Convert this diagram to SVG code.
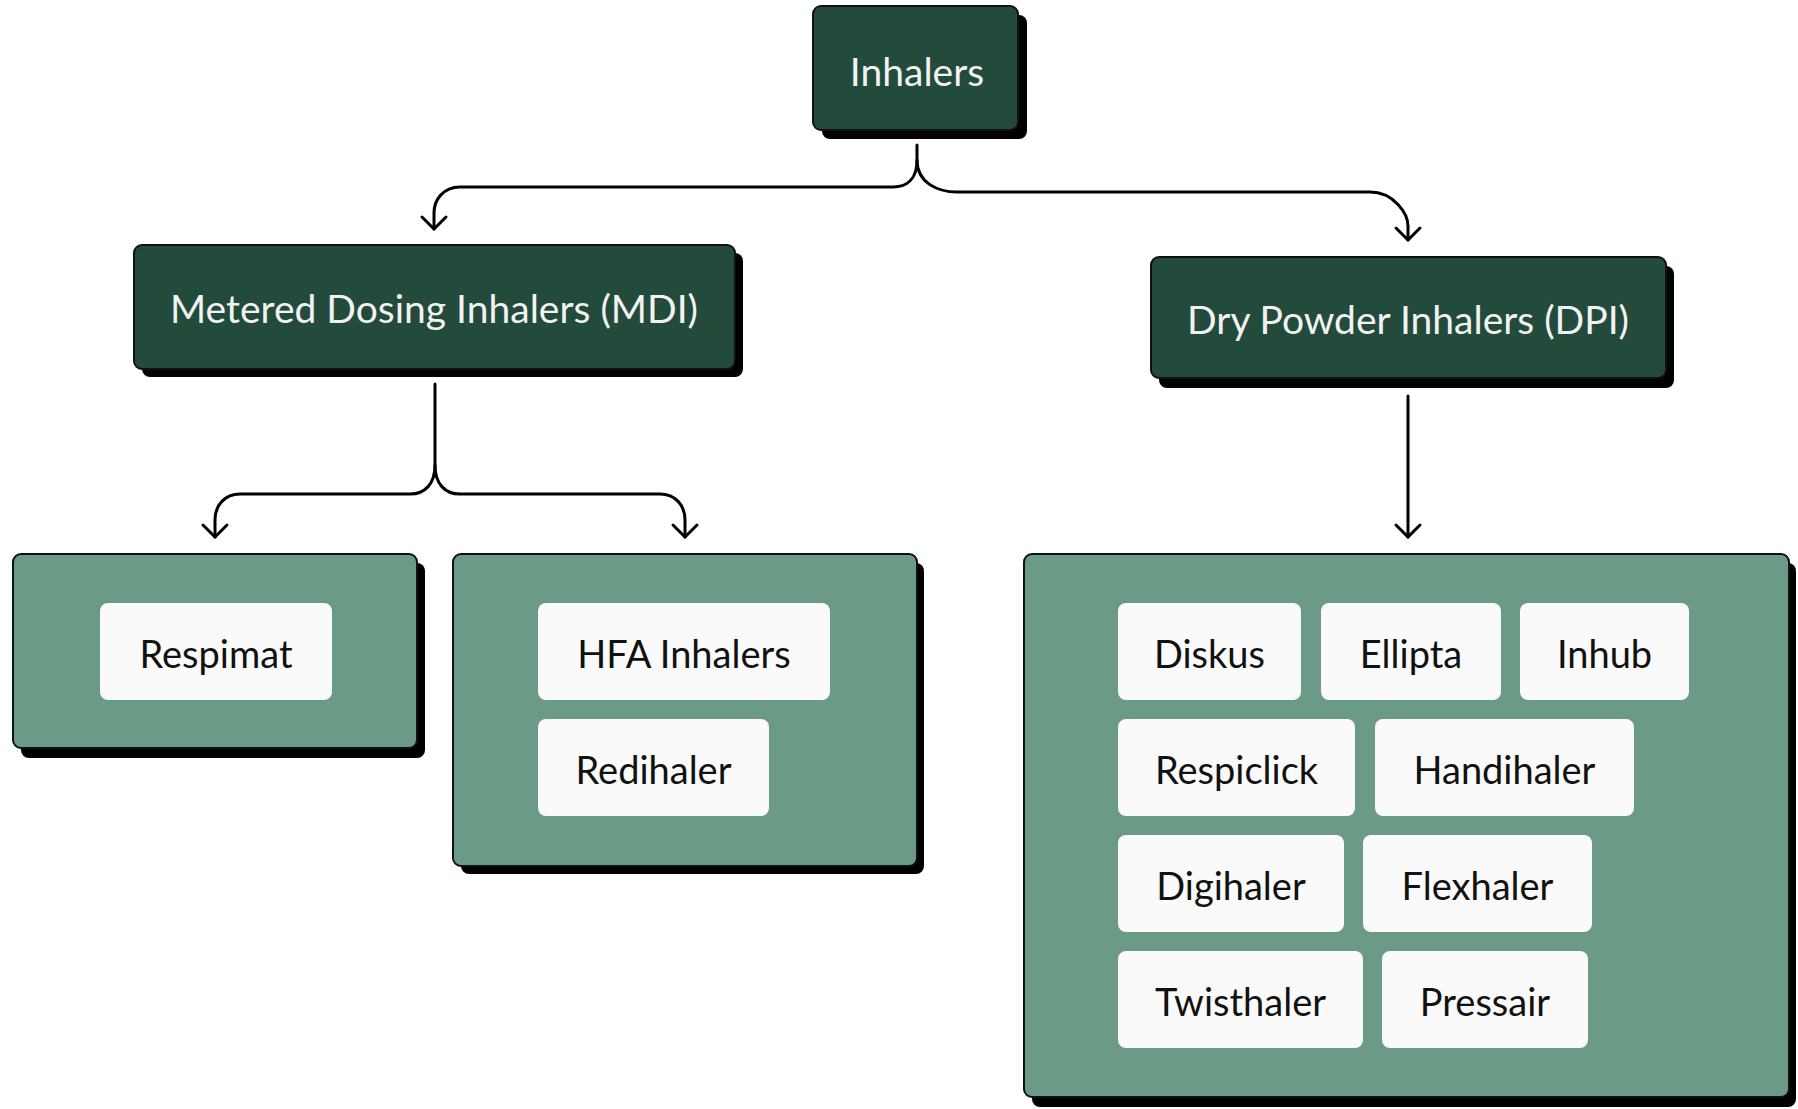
<svg xmlns="http://www.w3.org/2000/svg" width="1798" height="1109" viewBox="0 0 1798 1109">
<defs>
<style>
.shadow{fill:#000}
.dark{fill:#224B3B;stroke:#111;stroke-width:2}
.cont{fill:#6B9A87;stroke:#111;stroke-width:2}
.pill{fill:#FAFAFA}
.tl{font-family:Lato,"Liberation Sans",sans-serif;font-size:39px;fill:#F2F2F2;text-anchor:middle}
.tp{font-family:Lato,"Liberation Sans",sans-serif;font-size:38px;fill:#111;text-anchor:middle}
.conn{fill:none;stroke:#000;stroke-width:3;stroke-linecap:round;stroke-linejoin:round}
</style>
<marker id="arr" markerUnits="userSpaceOnUse" viewBox="-16 -16 20 32" refX="0" refY="0" markerWidth="20" markerHeight="32" orient="auto">
<path d="M-12,-12 L0,0 L-12,12" fill="none" stroke="#000" stroke-width="3" stroke-linecap="round" stroke-linejoin="round"/>
</marker>
</defs>
<rect width="1798" height="1109" fill="#fff"/>

<g id="connectors">
<path class="conn" d="M917,145 L917,160 C917,180 906,187 893,187 L460,187 C443,187 434,200 434,213 L434,229" marker-end="url(#arr)"/>
<path class="conn" d="M917,160 C917,183 938,192 957,192 L1370,192 C1394,192 1408,214 1408,226 L1408,240" marker-end="url(#arr)"/>
<path class="conn" d="M435,384 L435,465 C435,484 425,494 410,494 L240,494 C225,494 215,505 215,520 L215,537" marker-end="url(#arr)"/>
<path class="conn" d="M435,465 C435,484 445,494 460,494 L660,494 C675,494 685,505 685,520 L685,537" marker-end="url(#arr)"/>
<path class="conn" d="M1408,396 L1408,537" marker-end="url(#arr)"/>
</g>

<g id="inhalers">
<rect class="shadow" x="822" y="15" width="205" height="124" rx="8"/>
<rect class="dark" x="813" y="6" width="205" height="124" rx="8"/>
<text class="tl" x="917" y="86">Inhalers</text>
</g>

<g id="mdi">
<rect class="shadow" x="142" y="253" width="601" height="124" rx="8"/>
<rect class="dark" x="134" y="245" width="601" height="124" rx="8"/>
<text class="tl" x="434" y="323">Metered Dosing Inhalers (MDI)</text>
</g>

<g id="dpi">
<rect class="shadow" x="1159" y="266" width="515" height="122" rx="8"/>
<rect class="dark" x="1151" y="257" width="515" height="121" rx="8"/>
<text class="tl" x="1408" y="334">Dry Powder Inhalers (DPI)</text>
</g>

<g id="respimat-group">
<rect class="shadow" x="21" y="563" width="404" height="195" rx="8"/>
<rect class="cont" x="13" y="554" width="404" height="194" rx="8"/>
</g>
<g id="respimat">
<rect class="pill" x="100" y="603" width="232" height="97" rx="8"/>
<text class="tp" x="216" y="668">Respimat</text>
</g>

<g id="hfa-group">
<rect class="shadow" x="461" y="563" width="463" height="311" rx="8"/>
<rect class="cont" x="453" y="554" width="464" height="312" rx="8"/>
</g>
<g id="hfa">
<rect class="pill" x="538" y="603" width="292" height="97" rx="8"/>
<text class="tp" x="684" y="668">HFA Inhalers</text>
</g>
<g id="redihaler">
<rect class="pill" x="538" y="719" width="231" height="97" rx="8"/>
<text class="tp" x="653.5" y="784">Redihaler</text>
</g>

<g id="dpi-group">
<rect class="shadow" x="1032" y="563" width="764" height="544" rx="8"/>
<rect class="cont" x="1024" y="554" width="765" height="543" rx="8"/>
</g>
<g id="diskus">
<rect class="pill" x="1118" y="603" width="183" height="97" rx="8"/>
<text class="tp" x="1209.5" y="668">Diskus</text>
</g>
<g id="ellipta">
<rect class="pill" x="1321" y="603" width="180" height="97" rx="8"/>
<text class="tp" x="1411" y="668">Ellipta</text>
</g>
<g id="inhub">
<rect class="pill" x="1520" y="603" width="169" height="97" rx="8"/>
<text class="tp" x="1604.5" y="668">Inhub</text>
</g>
<g id="respiclick">
<rect class="pill" x="1118" y="719" width="237" height="97" rx="8"/>
<text class="tp" x="1236.5" y="784">Respiclick</text>
</g>
<g id="handihaler">
<rect class="pill" x="1375" y="719" width="259" height="97" rx="8"/>
<text class="tp" x="1504.5" y="784">Handihaler</text>
</g>
<g id="digihaler">
<rect class="pill" x="1118" y="835" width="226" height="97" rx="8"/>
<text class="tp" x="1231" y="900">Digihaler</text>
</g>
<g id="flexhaler">
<rect class="pill" x="1363" y="835" width="229" height="97" rx="8"/>
<text class="tp" x="1477.5" y="900">Flexhaler</text>
</g>
<g id="twisthaler">
<rect class="pill" x="1118" y="951" width="245" height="97" rx="8"/>
<text class="tp" x="1240.5" y="1016">Twisthaler</text>
</g>
<g id="pressair">
<rect class="pill" x="1382" y="951" width="206" height="97" rx="8"/>
<text class="tp" x="1485" y="1016">Pressair</text>
</g>
</svg>
